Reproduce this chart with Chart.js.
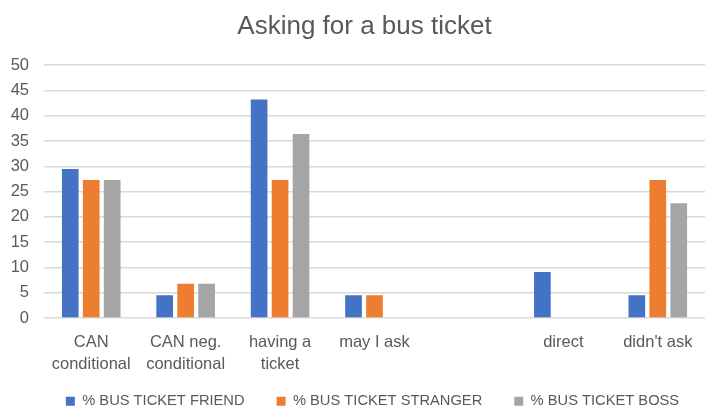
<!DOCTYPE html>
<html>
<head>
<meta charset="utf-8">
<script src="https://cdn.jsdelivr.net/npm/chart.js@4/dist/chart.umd.min.js"></script>
<style>
  html, body { margin: 0; padding: 0; background: #fff; }
  #wrap { width: 706px; height: 412px; }
</style>
</head>
<body>
<div id="wrap"><canvas id="chart-bars"></canvas></div>
<script>
// categories (5th slot is empty in the original sheet)
const labels_cat = [["CAN", "conditional"], ["CAN neg.", "conditional"], ["having a", "ticket"], "may I ask", "", "direct", "didn't ask"];
const data_friend = [29.5, 4.5, 43.2, 4.5, null, 9.1, 4.5];
const data_stranger = [27.3, 6.8, 27.3, 4.5, null, null, 27.3];
const data_boss = [27.3, 6.8, 36.4, null, null, null, 22.7];
const y_ticks = [0, 5, 10, 15, 20, 25, 30, 35, 40, 45, 50];

const txt = "#595959";
const fam = "'Liberation Sans', Arial, sans-serif";

// nudge title and legend like the Excel original
const nudge = {
	id: "nudge",
	afterLayout(chart) {
		chart.titleBlock.left += 12;
		chart.titleBlock.right += 12;
		chart.legend.left += 20;
		chart.legend.right += 20;
		chart.legend.top -= 26;
		chart.legend.bottom -= 26;
	}
};

const ctx20 = document.getElementById("chart-bars").getContext("2d");
let myChart = new Chart(ctx20, {
	type: "bar",
	data: {
		labels: labels_cat,
		datasets: [
			{
				label: "% BUS TICKET FRIEND",
				data: data_friend,
				backgroundColor: "#4472C4",
			},
			{
				label: "% BUS TICKET STRANGER",
				data: data_stranger,
				backgroundColor: "#ED7D31",
			},
			{
				label: "% BUS TICKET BOSS",
				data: data_boss,
				backgroundColor: "#A5A5A5",
			}
		],
	},
	plugins: [nudge],
	options: {
		responsive: true,
		maintainAspectRatio: false,
		animation: false,
		categoryPercentage: 0.666,
		barPercentage: 0.795,
		layout: { padding: { top: 5, right: 1, bottom: -32.7, left: 0 } },
		plugins: {
			title: {
				display: true,
				text: "Asking for a bus ticket",
				color: txt,
				font: { family: fam, size: 26, weight: "normal" },
				padding: { top: 6, bottom: 23 },
			},
			legend: {
				position: "bottom",
				labels: {
					color: txt,
					font: { family: fam, size: 14.7 },
					boxWidth: 9,
					boxHeight: 9,
					padding: 32,
				},
			},
			tooltip: { enabled: false },
		},
		scales: {
			x: {
				grid: { display: false, drawTicks: false },
				border: { display: false },
				ticks: {
					color: txt,
					font: { family: fam, size: 16.5, lineHeight: 1.33 },
					maxRotation: 0,
					autoSkip: false,
					padding: 13,
				},
			},
			y: {
				min: 0,
				max: 50,
				afterBuildTicks: (axis) => { axis.ticks = y_ticks.map(v => ({ value: v })); },
				afterFit: (axis) => { axis.width = 44; },
				grid: { color: "#d9d9d9", lineWidth: 1.5, drawTicks: false },
				border: { display: false },
				ticks: {
					color: txt,
					font: { family: fam, size: 16.5 },
					padding: 15,
				},
			},
		},
	},
});
</script>
</body>
</html>
